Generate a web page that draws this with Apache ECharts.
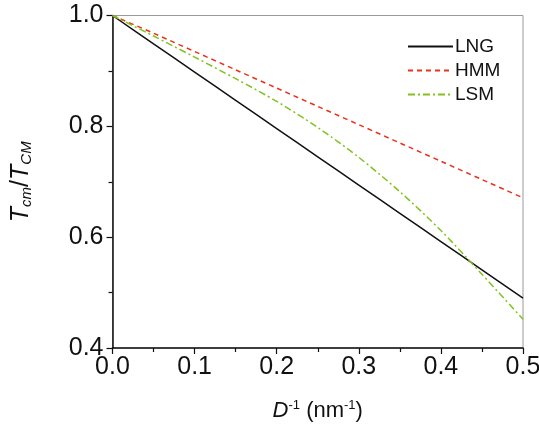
<!DOCTYPE html>
<html>
<head>
<meta charset="utf-8">
<script src="https://cdn.jsdelivr.net/npm/echarts@6/dist/echarts.min.js"></script>
<style>html,body{margin:0;padding:0;background:#fff}#c{width:539px;height:433px}</style>
</head>
<body>
<div id="c"></div>
<script>
const xValues = [0, 0.05, 0.1, 0.15, 0.2, 0.25, 0.3, 0.35, 0.4, 0.45, 0.5];
const lng = [1.0, 0.949, 0.898, 0.847, 0.796, 0.745, 0.694, 0.643, 0.592, 0.541, 0.490];
const hmm = [1.0, 0.968, 0.935, 0.902, 0.869, 0.836, 0.803, 0.770, 0.737, 0.704, 0.671];
const lsm = [1.0, 0.963, 0.925, 0.886, 0.845, 0.798, 0.744, 0.682, 0.612, 0.533, 0.452];
const seriesNames = ['LNG', 'HMM', 'LSM'];
const xTicks = [0, 0.1, 0.2, 0.3, 0.4, 0.5];
const yTicks = [0.4, 0.6, 0.8, 1.0];

const pair = arr => xValues.map((x, i) => [x, arr[i]]);
const font = 'Liberation Sans, Arial, sans-serif';
const chart = echarts.init(document.getElementById('c'), null, {renderer: 'canvas'});
chart.setOption({
  animation: false,
  grid: {left: 112.5, right: 16, top: 15.5, bottom: 85, show: true, borderColor: '#999', borderWidth: 1,
    containLabel: false, outerBoundsMode: 'none'},
  legend: {
    orient: 'vertical', left: 402, top: 32, itemWidth: 45, itemHeight: 12, itemGap: 5,
    textStyle: {fontFamily: font, fontSize: 19, color: '#111', padding: [0, 0, 0, -3]},
    itemStyle: {color: 'transparent', borderWidth: 0, opacity: 0},
    data: seriesNames
  },
  xAxis: {
    type: 'value', min: 0, max: 0.5, interval: 0.1,
    axisLine: {show: true, lineStyle: {color: '#111', width: 1.5}},
    axisTick: {show: true, inside: false, length: 6, lineStyle: {color: '#111', width: 1.2}},
    minorTick: {show: true, splitNumber: 2, length: 4, lineStyle: {color: '#111', width: 1.2}},
    splitLine: {show: false},
    axisLabel: {fontFamily: font, fontSize: 25, color: '#111', margin: 7,
      formatter: v => xTicks.includes(Math.round(v * 10) / 10) ? v.toFixed(1) : ''},
    name: '{it|D}{sup|-1} (nm{sup2|-1})', nameLocation: 'middle', nameGap: 51,
    nameTextStyle: {fontFamily: font, fontSize: 22, color: '#111',
      rich: {
        it: {fontFamily: font, fontSize: 22, fontStyle: 'italic', color: '#111'},
        sup: {fontFamily: font, fontSize: 13, color: '#111', padding: [0, 0, 11, 0]},
        sup2: {fontFamily: font, fontSize: 13, color: '#111', padding: [0, 0, 11, 0]}
      }}
  },
  yAxis: {
    type: 'value', min: 0.4, max: 1.0, interval: 0.2,
    axisLine: {show: true, lineStyle: {color: '#111', width: 1.5}},
    axisTick: {show: true, inside: false, length: 6, lineStyle: {color: '#111', width: 1.2}},
    minorTick: {show: true, splitNumber: 2, length: 4, lineStyle: {color: '#111', width: 1.2}},
    splitLine: {show: false},
    axisLabel: {fontFamily: font, fontSize: 25, color: '#111', margin: 9,
      formatter: v => v.toFixed(1)},
    name: '{it|T}{sub|cm}{n|/}{it|T}{sub|CM}', nameLocation: 'middle', nameGap: 78, nameRotate: 90,
    nameTextStyle: {fontFamily: font, fontSize: 24, color: '#111',
      rich: {
        it: {fontFamily: font, fontSize: 25, fontStyle: 'italic', color: '#111'},
        n: {fontFamily: font, fontSize: 25, color: '#111'},
        sub: {fontFamily: font, fontSize: 15, fontStyle: 'italic', color: '#111', padding: [12, 0, 0, 0]}
      }}
  },
  series: [
    {name: seriesNames[0], type: 'line', data: pair(lng), showSymbol: false, symbol: 'none', smooth: 0.3,
      lineStyle: {color: '#111', width: 1.5}, itemStyle: {color: '#111'}},
    {name: seriesNames[1], type: 'line', data: pair(hmm), showSymbol: false, symbol: 'none', smooth: 0.3,
      lineStyle: {color: '#e8321e', width: 1.5, type: [5, 4]}, itemStyle: {color: '#e8321e'}},
    {name: seriesNames[2], type: 'line', data: pair(lsm), showSymbol: false, symbol: 'none', smooth: 0.3,
      lineStyle: {color: '#82c21e', width: 1.5, type: [7, 3, 2, 3]}, itemStyle: {color: '#82c21e'}}
  ]
});
</script>
</body>
</html>
